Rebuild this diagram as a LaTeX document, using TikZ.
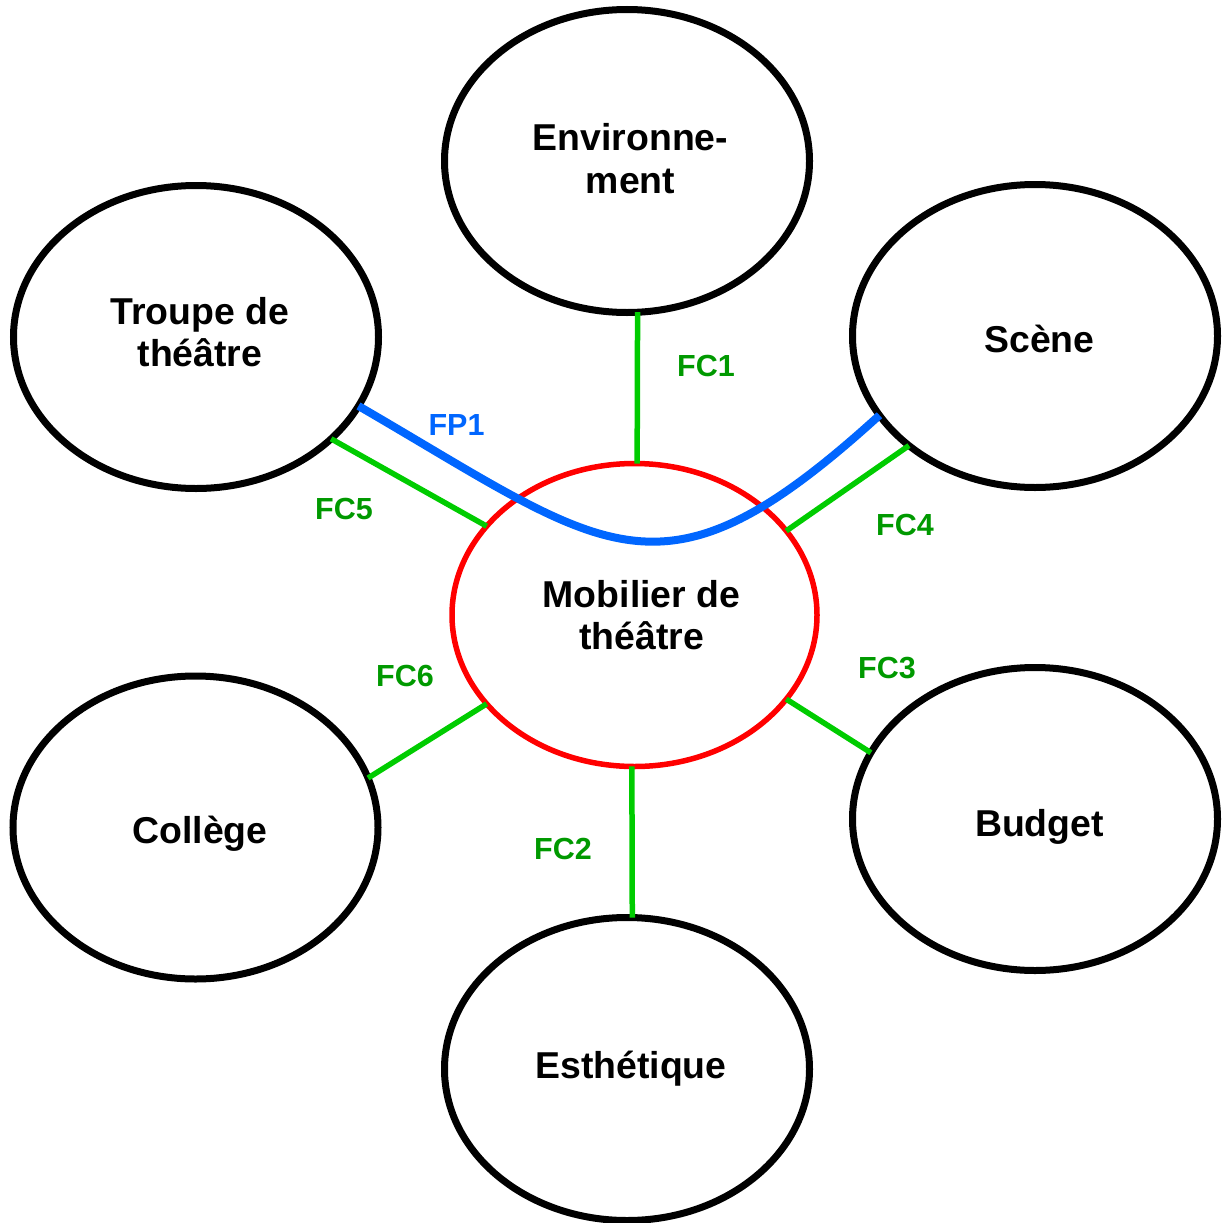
\documentclass[tikz,border=0pt]{standalone}
\usepackage{fontspec}
\setmainfont{Liberation Sans}
\usetikzlibrary{shapes.geometric}
\definecolor{fcgreen}{HTML}{00CC00}
\definecolor{lblgreen}{HTML}{009900}
\definecolor{fpblue}{HTML}{0066FF}
\tikzset{
  bubble/.style={ellipse, draw=black, line width=7pt, minimum width=365pt,
    minimum height=303pt, inner sep=0pt, outer sep=0pt},
  centerbubble/.style={bubble, draw=red, line width=5.5pt},
  btxt/.style={align=center, inner sep=0pt,
    font=\bfseries\fontsize{37.4pt}{42.5pt}\selectfont},
  fcline/.style={draw=fcgreen, line width=5.5pt},
  fpline/.style={draw=fpblue, line width=8pt},
  fclabel/.style={text=lblgreen, inner sep=0pt,
    font=\bfseries\fontsize{30.5pt}{36pt}\selectfont},
  fplabel/.style={fclabel, text=fpblue},
}
\begin{document}
\begin{tikzpicture}[x=1pt, y=-1pt]
  \useasboundingbox (0,0) rectangle (1221,1223);
  % ellipses
  \node[bubble, label={[btxt, xshift=3.5pt, yshift=2.5pt]center:{Environne-\\ment}}] (env) at (627,161) {};
  \node[bubble, label={[btxt, xshift=4pt, yshift=5pt]center:{Troupe de\\théâtre}}] (troupe) at (196,337) {};
  \node[bubble, label={[btxt, xshift=4.5pt, yshift=-3pt]center:{Scène}}] (scene) at (1035,336) {};
  \node[centerbubble, label={[btxt, xshift=7pt, yshift=0pt]center:{Mobilier de\\théâtre}}] (mob) at (634.5,615) {};
  \node[bubble, label={[btxt, xshift=4.5pt, yshift=-6pt]center:{Collège}}] (college) at (195.5,827.5) {};
  \node[bubble, label={[btxt, xshift=4.5pt, yshift=-8pt]center:{Budget}}] (budget) at (1035,819) {};
  \node[bubble, label={[btxt, xshift=4pt, yshift=0pt]center:{Esthétique}}] (esth) at (627,1069) {};
  % connectors
  \draw[fcline] (env.-86.3) -- (mob.89);
  \draw[fcline] (mob.-91.7) -- (esth.88.9);
  \draw[fcline] (mob.-29) -- (budget.158.4);
  \draw[fcline] (scene.-139.1) -- (mob.29.4);
  \draw[fcline] (troupe.-37.4) -- (mob.149.5);
  \draw[fcline] (college.16.4) -- (mob.-149.5);
  \draw[fpline] (troupe.-23.4) .. controls (610,552) and (660,615) .. (scene.-153.4);
  % labels
  \node[fclabel] (lfc1) at (706,366) {FC1};
  \node[fclabel] (lfc2) at (563,849) {FC2};
  \node[fclabel] (lfc3) at (887,668) {FC3};
  \node[fclabel] (lfc4) at (905,524.5) {FC4};
  \node[fclabel] (lfc5) at (344,509) {FC5};
  \node[fclabel] (lfc6) at (405,676) {FC6};
  \node[fplabel] (lfp1) at (456.5,425) {FP1};
\end{tikzpicture}
\end{document}
